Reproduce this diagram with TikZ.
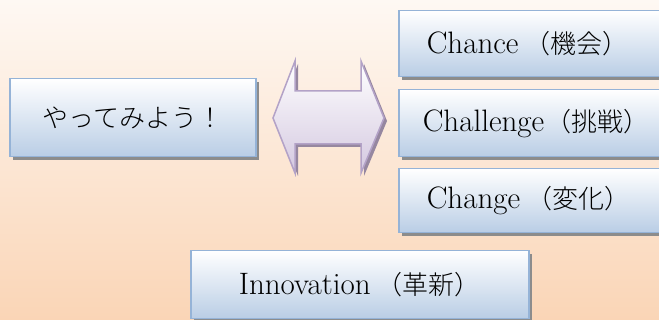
\documentclass[tikz,border=0pt]{standalone}
\usepackage{fontspec}
\newfontfamily\jp{Noto Sans CJK JP}[UprightFont={* Light}]
\usetikzlibrary{shadows}
\definecolor{bgtop}{RGB}{254,248,243}
\definecolor{bgbot}{RGB}{250,213,182}
\definecolor{boxbot}{RGB}{185,205,229}
\definecolor{boxline}{RGB}{149,179,215}
\definecolor{arrbot}{RGB}{212,200,224}
\definecolor{arrline}{RGB}{179,162,199}
\definecolor{shad}{RGB}{140,140,140}
\definecolor{arrshad}{RGB}{150,135,160}
\newcommand{\jpt}[1]{{\fontsize{26}{32}\selectfont\jp #1}}
\tikzset{
  card/.style={rectangle, draw=boxline, line width=1.5pt, top color=white, bottom color=boxbot,
    drop shadow={shadow xshift=3pt, shadow yshift=-3pt, fill=shad, opacity=1},
    inner sep=0pt, font=\fontsize{31}{36}\selectfont},
  leftcard/.style={card, anchor=north west, text width=240pt, inner xsep=28pt, align=left},
  dblarrow/.style={draw=arrline, line width=1.5pt, top color=white, bottom color=arrbot,
    drop shadow={shadow xshift=3pt, shadow yshift=-3pt, fill=arrshad, opacity=1}}
}
\begin{document}
\begin{tikzpicture}[x=1pt,y=-1pt]
\useasboundingbox (0,0) rectangle (659,320);
\clip (0,0) rectangle (659,320);
\shade[top color=bgtop, bottom color=bgbot] (0,0) rectangle (659,320);

\node[card, anchor=north west, minimum width=246pt, minimum height=78pt] (try) at (9,78) {\jpt{やってみよう！}};

\draw[dblarrow] (273,118) -- (295,61) -- (295,91) -- (361,91) -- (361,61) -- (384,118)
  -- (361,173) -- (361,144) -- (295,144) -- (295,173) -- cycle;

\node[leftcard, minimum height=66pt] (chance) at (398,10) {Chance\hspace{6pt}\jpt{（機会）}};
\node[leftcard, minimum height=67pt, inner xsep=24pt] (challenge) at (398,89) {Challenge\hspace{1pt}\jpt{（挑戦）}};
\node[leftcard, minimum height=64pt] (change) at (398,168) {Change\hspace{6pt}\jpt{（変化）}};

\node[card, anchor=north west, minimum width=338pt, minimum height=68pt] (innov) at (190,250) {Innovation\hspace{6pt}\jpt{（革新）}};
\end{tikzpicture}
\end{document}
